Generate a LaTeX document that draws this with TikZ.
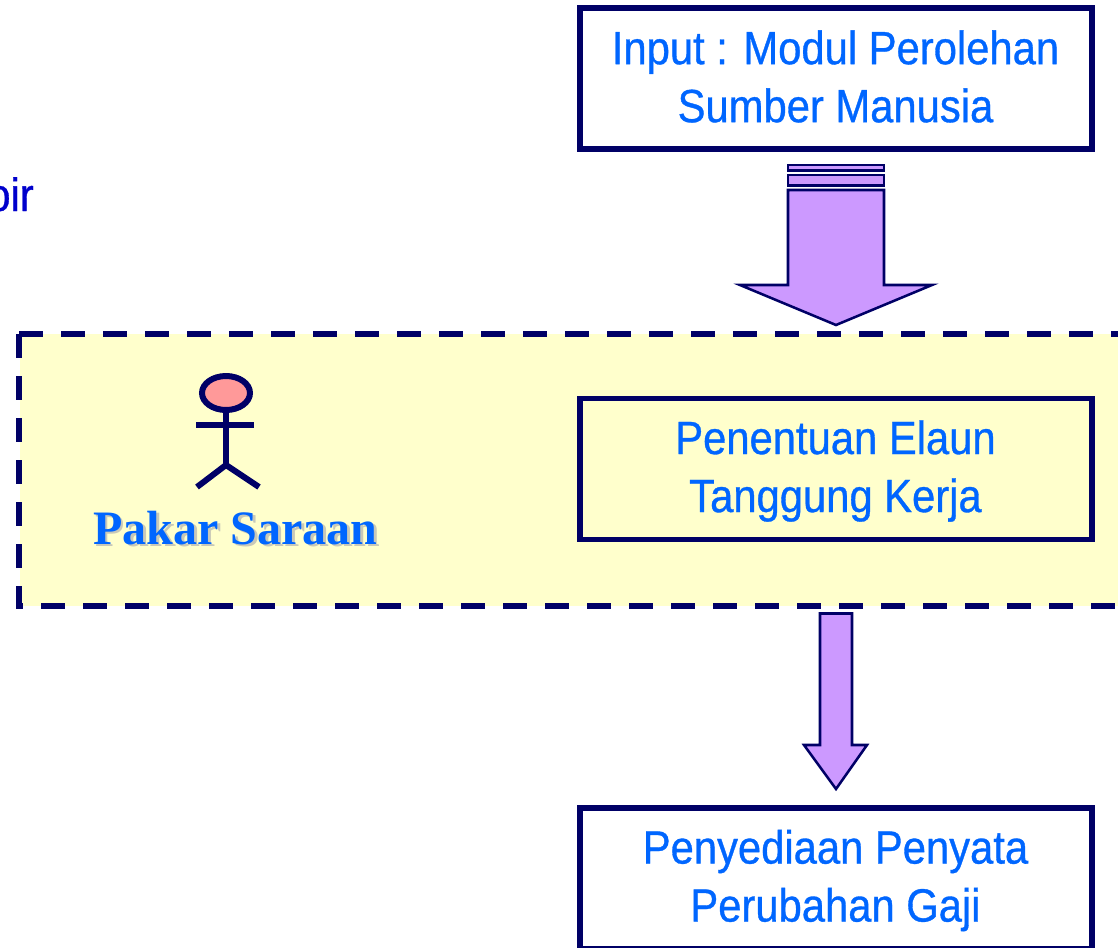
\documentclass[tikz,border=0pt]{standalone}
\usepackage{fontspec}
\setmainfont{Liberation Sans}
\newfontfamily\boxfont[FakeStretch=0.895,FakeBold=0.7]{Liberation Sans}
\newfontfamily\labelfont{Liberation Serif}
\definecolor{navyline}{HTML}{000066}
\definecolor{textblue}{HTML}{0066FF}
\definecolor{deepblue}{HTML}{0000CC}
\definecolor{paleyellow}{HTML}{FFFFCC}
\definecolor{lilac}{HTML}{CC99FF}
\definecolor{headpink}{HTML}{FF9999}
\definecolor{shadowgrey}{HTML}{C8C8B8}
\tikzset{
  procbox/.style={draw=navyline,line width=4.4pt,minimum width=384pt,minimum height=105.75pt,inner sep=0pt},
  boxtext/.style={inner sep=0pt,align=center,text=textblue,font=\boxfont\fontsize{35}{43.5}\selectfont},
  blockarrow/.style={draw=navyline,fill=lilac,line width=1.9pt,line join=miter},
  stickman/.style={draw=navyline,line width=4.5pt},
  zonedash/.style={draw=navyline,line width=3.8pt,dash pattern=on 18pt off 13.5pt},
  actorlabel/.style={font=\labelfont\bfseries\fontsize{36}{36}\selectfont,inner sep=0pt,anchor=base},
}
\begin{document}
\begin{tikzpicture}[x=0.75pt,y=-0.75pt]
\useasboundingbox (0,0) rectangle (1118,947);
\clip (0,0) rectangle (1118,947);
% zone
\fill[paleyellow] (20,334) rectangle (1130,606);
\draw[zonedash] (19,334) -- (1130,334);
\draw[zonedash] (19,334) -- (19,606) -- (1130,606);
% boxes
\node[procbox] (input) at (836,78.5) {};
\node[procbox] (elaun) at (836,469) {};
\node[procbox] (penyata) at (836,878.5) {};
\node[boxtext] (inputtext) at (835.5,76.5) {Input : Modul Perolehan\\Sumber Manusia};
\node[boxtext] (elauntext) at (835.5,471) {Penentuan Elaun\\Tanggung Kerja};
\node[boxtext] (penyatatext) at (835.5,880.5) {Penyediaan Penyata\\Perubahan Gaji};
% fragment at left edge
\node[anchor=base east,inner sep=0pt,text=deepblue,font=\boxfont\fontsize{35}{40}\selectfont] (frag) at (34,211) {oir};
% arrow 1
\fill[blockarrow] (788,165) rectangle (884,170.5);
\fill[blockarrow] (788,175) rectangle (884,185.5);
\draw[blockarrow] (788,190) -- (884,190) -- (884,285) -- (932,285) -- (836,325) -- (740,285) -- (788,285) -- cycle;
% arrow 2
\draw[blockarrow] (820,613.5) -- (852,613.5) -- (852,745) -- (867,745) -- (836,789) -- (804,745) -- (820,745) -- cycle;
% actor
\draw[stickman,fill=headpink] (226,393) ellipse (24 and 17);
\draw[stickman] (226,410) -- (226,465);
\draw[stickman] (196,424.5) -- (254,424.5);
\draw[stickman] (226,465) -- (197,487);
\draw[stickman] (226,465) -- (259,487);
\node[actorlabel,text=shadowgrey] (pakarshadow) at (238,546.5) {Pakar Saraan};
\node[actorlabel,text=textblue] (pakar) at (235.5,544) {Pakar Saraan};
\end{tikzpicture}
\end{document}
